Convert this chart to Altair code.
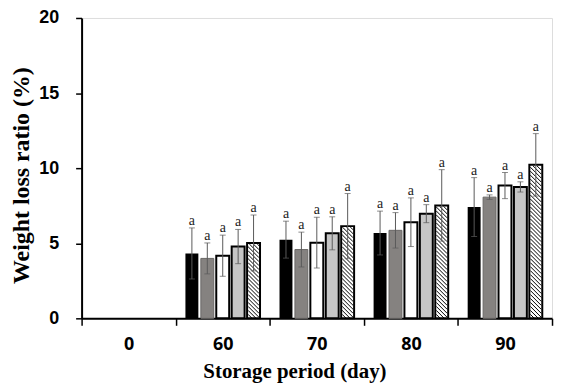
import altair as alt
import pandas as pd

# ---------------- data ----------------
days = ["0", "60", "70", "80", "90"]
treatments = ["T1", "T2", "T3", "T4", "T5"]
# mean weight loss ratio (%) per treatment, for days 60, 70, 80, 90 (day 0 has no bars)
mean_60 = [4.32, 3.99, 4.17, 4.78, 5.02]
mean_70 = [5.24, 4.58, 5.04, 5.66, 6.14]
mean_80 = [5.68, 5.86, 6.40, 6.97, 7.52]
mean_90 = [7.41, 8.07, 8.84, 8.75, 10.22]
err_60 = [1.70, 1.03, 1.37, 1.14, 1.86]
err_70 = [1.23, 1.16, 1.69, 1.10, 2.17]
err_80 = [1.46, 1.18, 1.62, 0.60, 2.38]
err_90 = [1.96, 0.15, 0.87, 0.34, 2.08]
letters = ["a", "a", "a", "a", "a"]

# ---------------- layout ----------------
W, H = 473, 302
YMAX = 20
PPX = W / len(days)          # px per category unit
PPY = H / YMAX               # px per y unit
STEP = 15.5 / PPX
BARW = 13.0 / PPX

fills = ["#000000", "#858280", "#ffffff", "#c6c6c6", "#ffffff"]
outline = [False, False, True, True, True]

rows = []
for di, (ms, es) in enumerate([(mean_60, err_60), (mean_70, err_70),
                                (mean_80, err_80), (mean_90, err_90)], start=1):
    for k, t in enumerate(treatments):
        c = di + 0.5 + (k - 2) * STEP
        rows.append(dict(day=days[di], treat=t, k=k, xc=c,
                         x0=c - BARW / 2, x1=c + BARW / 2,
                         mean=ms[k], lo=ms[k] - es[k], hi=ms[k] + es[k],
                         letter=letters[k], zero=0.0,
                         outlined=outline[k]))
df = pd.DataFrame(rows)

# hatch texture for the 5th treatment (diagonal lines, derived from bar geometry)
hatch = []
period = 4.0
for _, r in df[df.k == 4].iterrows():
    L, R = r.x0 * PPX + 1, r.x1 * PPX - 1
    T, B = H - r["mean"] * PPY + 1, H
    c = L - B
    while c <= R - T:
        y1 = max(T, L - c)
        y2 = min(B, R - c)
        if y2 > y1:
            hatch.append(dict(hx0=(y1 + c) / PPX, hy0=(H - y1) / PPY,
                              hx1=(y2 + c) / PPX, hy1=(H - y2) / PPY))
        c += period
hdf = pd.DataFrame(hatch)

label_js = "[" + ",".join("'" + d + "'" for d in days) + "]"
label_expr = "datum.value % 1 == 0.5 ? " + label_js + "[floor(datum.value)] : ''"

xscale = alt.Scale(domain=[0, len(days)], nice=False, zero=False)
yscale = alt.Scale(domain=[0, YMAX], nice=False)

xaxis = alt.Axis(
    values=[i * 0.5 for i in range(2 * len(days) + 1)],
    labelExpr=label_expr,
    tickOpacity={"condition": {"test": "datum.value % 1 != 0", "value": 0}, "value": 1},
    title="Storage period (day)", grid=False, labelOverlap=False, labelFlush=False,
    labelFont="Open Sans", labelFontWeight="bold", labelFontSize=18, labelColor="#000",
    labelPadding=10, tickSize=7, tickWidth=1.5, tickColor="#000",
    domainColor="#000", domainWidth=2,
    titleFont="Liberation Serif", titleFontWeight="bold", titleFontSize=21, titleColor="#000",
    titleX=214, titleY=59, titleBaseline="alphabetic",
)
yaxis = alt.Axis(
    values=[0, 5, 10, 15, 20], title="Weight loss ratio (%)", grid=False,
    labelFont="Liberation Sans", labelFontWeight="bold", labelFontSize=18, labelColor="#000",
    labelPadding=17, tickSize=6, tickWidth=1.5, tickColor="#000",
    domainColor="#000", domainWidth=2,
    titleFont="Liberation Serif", titleFontWeight="bold", titleFontSize=24, titleColor="#000",
    titleX=-53, titleY=158, titleBaseline="alphabetic",
)

base = alt.Chart(df)
color_scale = alt.Scale(domain=treatments, range=fills)

bars = base.mark_rect(strokeWidth=0).encode(
    x=alt.X("x0:Q", scale=xscale, axis=xaxis),
    x2="x1:Q",
    y=alt.Y("mean:Q", scale=yscale, axis=yaxis),
    y2="zero:Q",
    fill=alt.Fill("treat:N", scale=color_scale, legend=None),
)
gray_edge = base.transform_filter("datum.k == 1").mark_rect(
    fill=None, stroke="#6a6866", strokeWidth=1
).encode(x="x0:Q", x2="x1:Q", y="mean:Q", y2="zero:Q")

hatch_lines = alt.Chart(hdf).mark_rule(color="#000", strokeWidth=1).encode(
    x="hx0:Q", x2="hx1:Q", y="hy0:Q", y2="hy1:Q")

outlines = base.transform_filter("datum.outlined").mark_rect(
    fill=None, stroke="#000", strokeWidth=2
).encode(x="x0:Q", x2="x1:Q", y="mean:Q", y2="zero:Q")

err = base.mark_rule(color="#5a5a5a", strokeWidth=1).encode(
    x="xc:Q", y="lo:Q", y2="hi:Q")
cap_hi = base.mark_tick(color="#5a5a5a", orient="horizontal", size=6, thickness=1).encode(
    x="xc:Q", y="hi:Q")
cap_lo = base.mark_tick(color="#5a5a5a", orient="horizontal", size=6, thickness=1).encode(
    x="xc:Q", y="lo:Q")
txt = base.mark_text(font="Liberation Serif", fontSize=14, color="#222222",
                     baseline="alphabetic", dy=-3).encode(
    x="xc:Q", y="hi:Q", text="letter:N")

chart = alt.layer(bars, gray_edge, hatch_lines, outlines, err, cap_hi, cap_lo, txt).properties(
    width=W, height=H,
    padding={"left": 74, "top": 9, "right": 4, "bottom": 66},
    autosize="none",
).configure_view(stroke=None).configure(background="#ffffff")

chart.save("out.html", embed_options={"renderer": "svg", "actions": False})
